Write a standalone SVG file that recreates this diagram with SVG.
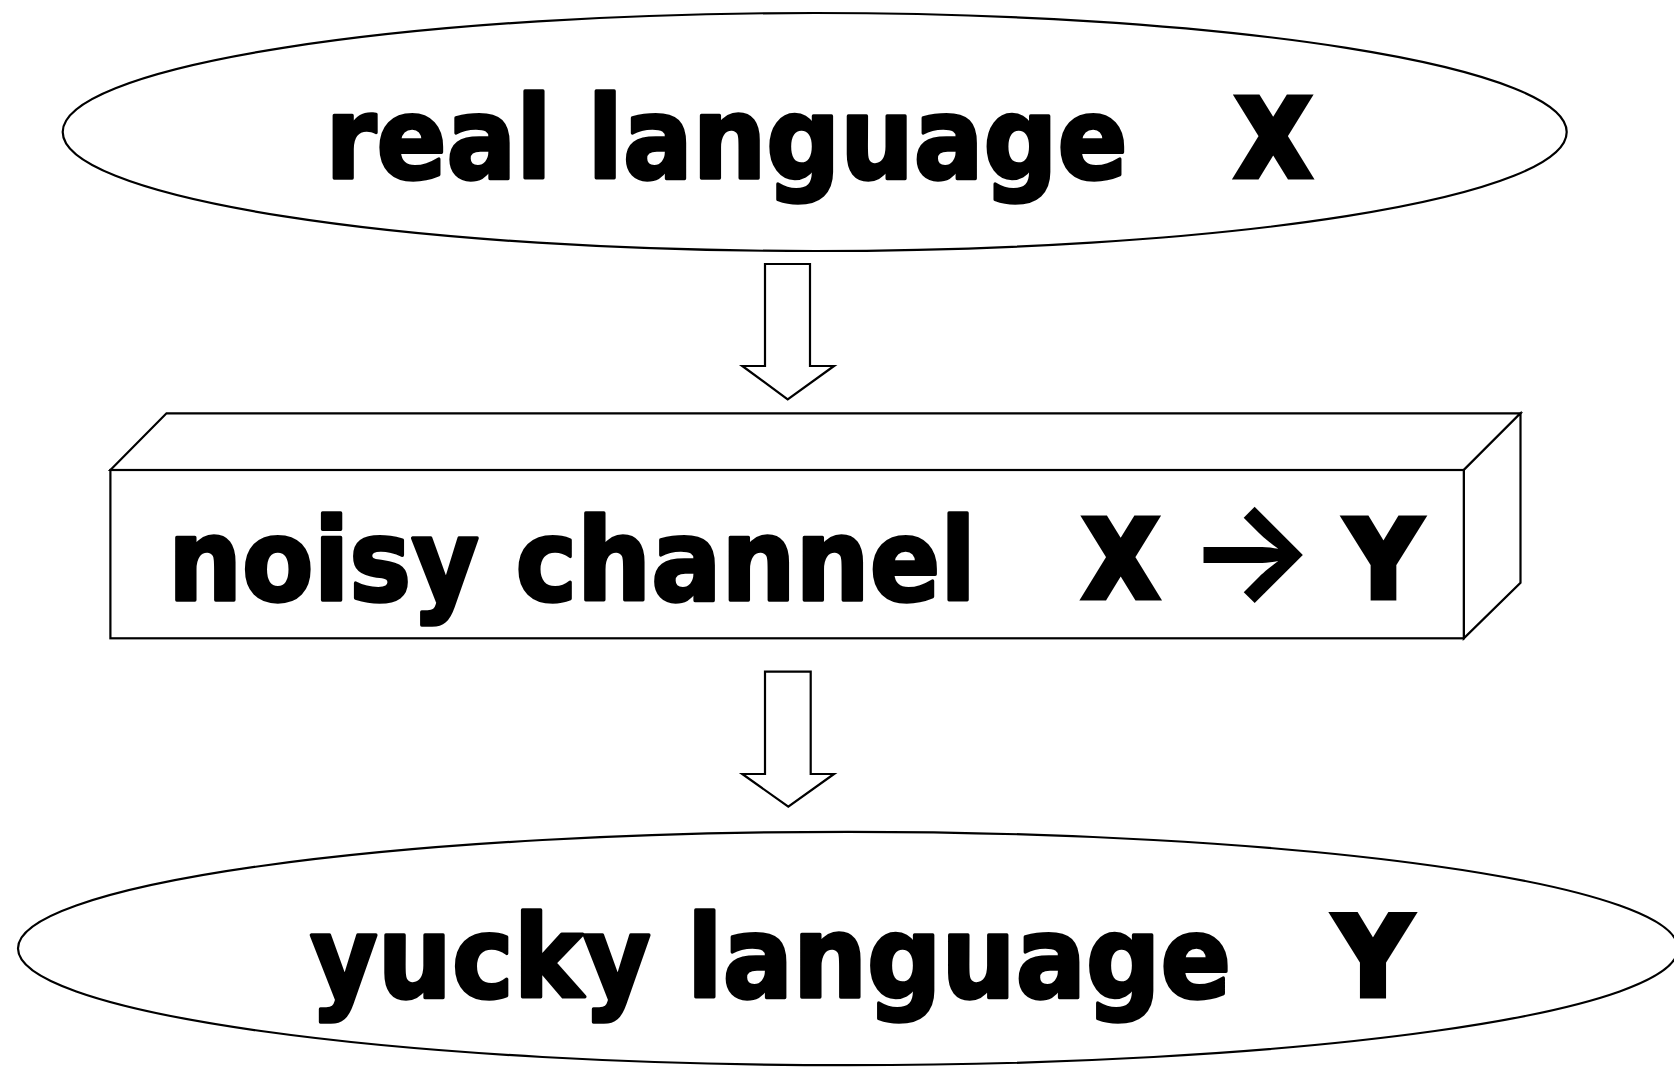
<svg xmlns="http://www.w3.org/2000/svg" width="1674" height="1067" viewBox="0 0 1674 1067">
<style>
.shape{fill:#fff;stroke:#000;stroke-width:2.2;stroke-linejoin:miter}
.lbl{font-family:"DejaVu Sans","Liberation Sans",sans-serif;font-weight:bold;font-size:114px;fill:#000;stroke:#000;stroke-width:3.5;stroke-linejoin:round}
.cap{font-family:"DejaVu Sans","Liberation Sans",sans-serif;font-weight:bold;font-size:107px;fill:#000;stroke:#000;stroke-width:7;stroke-linejoin:miter;stroke-miterlimit:3}
.sym{font-family:Inter,"DejaVu Sans",sans-serif;font-weight:700;font-size:136px;fill:#000}
</style>
<rect width="1674" height="1067" fill="#fff"/>
<g id="node-real">
<ellipse class="shape" cx="814.7" cy="132" rx="752" ry="119"/>
<text class="lbl" x="325.5" y="178" textLength="802" lengthAdjust="spacingAndGlyphs">real language</text>
<text class="cap" x="1236" y="175.5" textLength="74.5" lengthAdjust="spacingAndGlyphs">X</text>
</g>
<g id="node-channel">
<polygon class="shape" points="110.4,470 166.5,413.3 1520.5,413.3 1463.8,470"/>
<polygon class="shape" points="1463.8,470 1520.5,413.3 1520.5,582.7 1463.8,638.3"/>
<rect class="shape" x="110.4" y="470" width="1353.4" height="168.3"/>
<text class="lbl" x="168" y="600" textLength="808" lengthAdjust="spacingAndGlyphs">noisy channel</text>
<text class="cap" x="1083.5" y="597" textLength="74.5" lengthAdjust="spacingAndGlyphs">X</text>
<text class="sym" x="1251.5" y="598" text-anchor="middle">→</text>
<text class="cap" x="1346.8" y="597" textLength="73.5" lengthAdjust="spacingAndGlyphs">Y</text>
</g>
<g id="node-yucky">
<ellipse class="shape" cx="848" cy="948.5" rx="830" ry="116.7"/>
<text class="lbl" x="310" y="997" textLength="921" lengthAdjust="spacingAndGlyphs">yucky language</text>
<text class="cap" x="1335.5" y="995" textLength="75" lengthAdjust="spacingAndGlyphs" style="font-size:109px">Y</text>
</g>
<g id="connectors">
<polygon class="shape" points="765,264 810,264 810,366 834,366 787.7,399.3 742.3,366 765,366"/>
<polygon class="shape" points="765,671.7 810.7,671.7 810.7,774 834,774 788.3,806.7 742.3,774 765,774"/>
</g>
</svg>
